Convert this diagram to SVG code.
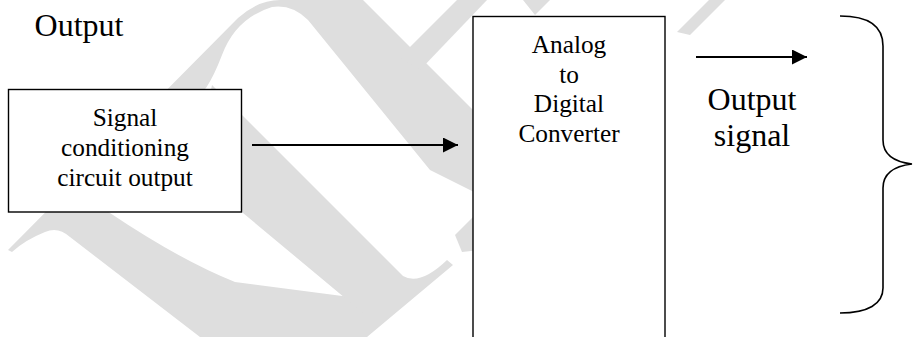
<svg xmlns="http://www.w3.org/2000/svg" width="913" height="337" viewBox="0 0 913 337">
<style>
.wm{fill:#dedede;stroke:none}
.box{fill:#ffffff;stroke:#000;stroke-width:1.4}
text{font-family:'Liberation Serif',Tinos,'Times New Roman',Times,'Nimbus Roman','DejaVu Serif',serif;fill:#000;text-anchor:middle}
.small{font-size:25.3px}
.big{font-size:32px}
.conn{stroke:#000;stroke-width:2;fill:none}
.brace{stroke:#000;stroke-width:1.6;fill:none}
</style>
<defs>
<marker id="ah" markerWidth="15" markerHeight="15" viewBox="0 0 15 15" refX="15" refY="7.5" orient="auto" markerUnits="userSpaceOnUse">
<path d="M0,0 L15,7.5 L0,15 Z" fill="#000"/>
</marker>
</defs>
<rect width="913" height="337" fill="#fff"/>
<g id="watermark">
<path class="wm" d="M8,250 L238,18 Q258,0 280,0 L363,0 L480,117 L480,195 L430,170 L308,20 Q292,4 272,7 Q236,18 222,55 Q214,76 206,88 L95,198 L110,213 Q180,260 235,282 L350,297 Q367,305 367,320 L367,337 L200,337 L70,237 Q58,226 45,232 Q25,240 12,252 Z"/>
<path class="wm" d="M212,85 L403,276 Q420,286 447,260 L453,265 L367,337 L363,313 L243,213 L200,140 Z"/>
<path class="wm" d="M400,57 L457,0 L487,0 L420,70 Z"/>
<path class="wm" d="M523,0 L550,0 L535,15 Z"/>
<path class="wm" d="M677,32 L709,0 L725,0 L690,35 Z"/>
<path class="wm" d="M455,235 L480,210 L480,250 L462,252 Z"/>
</g>
<g id="title">
<text class="big" x="79" y="36" font-family="Liberation Serif, serif">Output</text>
</g>
<g id="signal-conditioning">
<rect class="box" x="8.5" y="89.5" width="233" height="122.5"/>
<text class="small" x="125" y="126">Signal</text>
<text class="small" x="125" y="156">conditioning</text>
<text class="small" x="125" y="186">circuit output</text>
</g>
<g id="adc">
<rect class="box" x="473" y="16.5" width="192" height="330"/>
<text class="small" x="569" y="53">Analog</text>
<text class="small" x="569" y="82.5">to</text>
<text class="small" x="569" y="112">Digital</text>
<text class="small" x="569" y="141.5">Converter</text>
</g>
<g id="output-label">
<text class="big" x="752" y="110">Output</text>
<text class="big" x="752" y="146">signal</text>
</g>
<g id="brace">
<path class="brace" d="M840,16 C868,16 883,26 883,46 L883,140 C883,155 895,162 912,164 C895,166 883,173 883,188 L883,288 C883,304 868,313 840,313"/>
</g>
<g id="connectors">
<line class="conn" x1="252" y1="145" x2="458" y2="145" marker-end="url(#ah)"/>
<line class="conn" x1="696" y1="57" x2="807" y2="57" marker-end="url(#ah)"/>
</g>
</svg>
